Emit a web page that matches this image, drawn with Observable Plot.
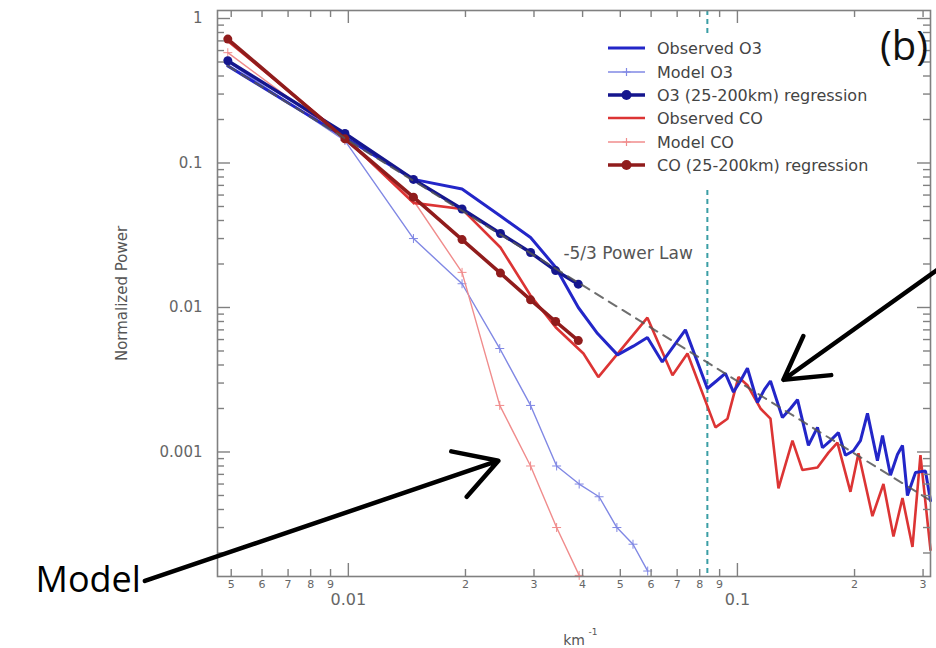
<!DOCTYPE html>
<html><head><meta charset="utf-8">
<script src="https://cdn.jsdelivr.net/npm/d3@7"></script>
<script src="https://cdn.jsdelivr.net/npm/@observablehq/plot@0.6"></script>
<style>body{margin:0;background:#fff;}</style>
</head><body><div id="chart"></div>
<script>
// ---- data (wavenumber km^-1, normalized power) ----
const kObsO3 = [0.0049, 0.0098, 0.0147, 0.0196, 0.0246, 0.0294, 0.0341, 0.039, 0.0437, 0.0492, 0.054, 0.0587, 0.0641, 0.0735, 0.0837, 0.0883, 0.0931, 0.0977, 0.1018, 0.1061, 0.1126, 0.1173, 0.1216, 0.1305, 0.1369, 0.1427, 0.1522, 0.1606, 0.1654, 0.1734, 0.1818, 0.1895, 0.1987, 0.2071, 0.2159, 0.229, 0.236, 0.2474, 0.2578, 0.2656, 0.2735, 0.2869, 0.3043, 0.3135];
const pObsO3 = [0.47, 0.15, 0.077, 0.066, 0.043, 0.0305, 0.019, 0.010, 0.0066, 0.0047, 0.0054, 0.0062, 0.0042, 0.0070, 0.00275, 0.0031, 0.0035, 0.0026, 0.0031, 0.0038, 0.0022, 0.0027, 0.0031, 0.00173, 0.0020, 0.0023, 0.00111, 0.00148, 0.00107, 0.0012, 0.00136, 0.00095, 0.00102, 0.0012, 0.00185, 0.00087, 0.0013, 0.00069, 0.00096, 0.00111, 0.0005, 0.00072, 0.00074, 0.00046];

const kObsCO = [0.0049, 0.0098, 0.0147, 0.0196, 0.0246, 0.0294, 0.0341, 0.0402, 0.0439, 0.0587, 0.0681, 0.0744, 0.0878, 0.0943, 0.1006, 0.1061, 0.1146, 0.1216, 0.1275, 0.1385, 0.1469, 0.1606, 0.1714, 0.1807, 0.1952, 0.2047, 0.2223, 0.2373, 0.2518, 0.2656, 0.2818, 0.2954, 0.3135];
const pObsCO = [0.70, 0.15, 0.053, 0.048, 0.026, 0.0121, 0.0073, 0.0048, 0.0033, 0.0085, 0.0034, 0.0048, 0.00148, 0.0017, 0.0033, 0.0029, 0.0020, 0.0017, 0.00056, 0.0012, 0.00075, 0.00078, 0.00099, 0.00116, 0.00053, 0.00098, 0.00036, 0.0006, 0.00026, 0.00048, 0.00022, 0.00095, 0.00021];

const kModelO3 = [0.0049, 0.0098, 0.0147, 0.0196, 0.0245, 0.0294, 0.0343, 0.0392, 0.0441, 0.049, 0.0539, 0.0588];
const pModelO3 = [0.50, 0.143, 0.030, 0.0146, 0.0052, 0.0021, 0.00080, 0.00060, 0.00049, 0.00030, 0.00023, 0.00015];

const kModelCO = [0.0049, 0.0098, 0.0147, 0.0196, 0.0245, 0.0294, 0.0343, 0.0392];
const pModelCO = [0.58, 0.145, 0.055, 0.0175, 0.0021, 0.0008, 0.0003, 0.00014];

const kReg = [0.0049, 0.0098, 0.0147, 0.0196, 0.0246, 0.0294, 0.0341, 0.039];
const pRegO3 = [0.51, 0.16, 0.077, 0.048, 0.0325, 0.024, 0.018, 0.0145];
const pRegCO = [0.72, 0.147, 0.058, 0.0295, 0.0173, 0.0113, 0.0080, 0.0059];

const kPowerLaw = [0.0049, 0.31];
const pPowerLaw = [0.47, 0.00047];

const kCutoff = [0.0837];

// ---- ticks ----
const xMinorTicks = [0.005, 0.006, 0.007, 0.008, 0.009, 0.02, 0.03, 0.04, 0.05, 0.06, 0.07, 0.08, 0.09, 0.2, 0.3];
const xMinorLabels = ["5", "6", "7", "8", "9", "2", "3", "4", "5", "6", "7", "8", "9", "2", "3"];
const xMajorTicks = [0.01, 0.1];
const xMajorLabels = ["0.01", "0.1"];
const yMajorTicks = [0.001, 0.01, 0.1, 1];
const yMajorLabels = ["0.001", "0.01", "0.1", "1"];
const yMinorTicks = [0.0002,0.0003,0.0004,0.0005,0.0006,0.0007,0.0008,0.0009,
  0.002,0.003,0.004,0.005,0.006,0.007,0.008,0.009,
  0.02,0.03,0.04,0.05,0.06,0.07,0.08,0.09,
  0.2,0.3,0.4,0.5,0.6,0.7,0.8,0.9];

// ---- annotations ----
const arrows = [
  {x1: 0.0030, y1: 0.000128, x2: 0.0243, y2: 0.00087},
  {x1: 0.345, y1: 0.0203, x2: 0.1313, y2: 0.00316}
];
const powerLawLabel = [{x: 0.0357, y: 0.0237, text: "-5/3 Power Law"}];

const legendItems = [
  {label: "Observed O3", color: "#2326c8", width: 3, marker: null},
  {label: "Model O3", color: "#8088e4", width: 1.4, marker: "plus"},
  {label: "O3 (25-200km) regression", color: "#15168e", width: 3.5, marker: "dot"},
  {label: "Observed CO", color: "#dc3434", width: 2.6, marker: null},
  {label: "Model CO", color: "#f08c8c", width: 1.4, marker: "plus"},
  {label: "CO (25-200km) regression", color: "#901c1c", width: 3.5, marker: "dot"}
];

const tab = (k, p) => k.map((x, i) => ({x, y: p[i]}));
const obsO3 = tab(kObsO3, pObsO3), obsCO = tab(kObsCO, pObsCO);
const modO3 = tab(kModelO3, pModelO3), modCO = tab(kModelCO, pModelCO);
const regO3 = tab(kReg, pRegO3), regCO = tab(kReg, pRegCO);
const powerLaw = tab(kPowerLaw, pPowerLaw);

const W = 936, H = 648, mL = 217, mR = 6, mT = 10, mB = 72;
const plotH = H - mT - mB, plotW = W - mL - mR;
const axisColor = "#808080", labelColor = "#666";

const plot = Plot.plot({
  width: W, height: H,
  marginLeft: mL, marginRight: mR, marginTop: mT, marginBottom: mB,
  x: {type: "log", domain: [0.00461, 0.3135], axis: null},
  y: {type: "log", domain: [1.375e-4, 1.136], axis: null},
  style: {fontFamily: "DejaVu Sans", background: "#fff", overflow: "visible"},
  marks: [
    // cutoff line
    Plot.ruleX(kCutoff, {x: d => d, stroke: "#3a9ea5", strokeWidth: 2, strokeDasharray: "5,4"}),
    // model lines
    Plot.line(modO3, {x: "x", y: "y", stroke: "#8088e4", strokeWidth: 1.4}),
    Plot.dot(modO3, {x: "x", y: "y", symbol: "plus", r: 3, stroke: "#8088e4", strokeWidth: 1}),
    Plot.line(modCO, {x: "x", y: "y", stroke: "#f08c8c", strokeWidth: 1.4}),
    Plot.dot(modCO, {x: "x", y: "y", symbol: "plus", r: 3, stroke: "#f08c8c", strokeWidth: 1}),
    // observed
    Plot.line(obsCO, {x: "x", y: "y", stroke: "#dc3434", strokeWidth: 2.6, strokeLinejoin: "miter"}),
    Plot.line(obsO3, {x: "x", y: "y", stroke: "#2326c8", strokeWidth: 3, strokeLinejoin: "miter"}),
    // regressions
    Plot.line(regO3, {x: "x", y: "y", stroke: "#15168e", strokeWidth: 3.5}),
    Plot.dot(regO3, {x: "x", y: "y", r: 4.5, fill: "#15168e"}),
    Plot.line(regCO, {x: "x", y: "y", stroke: "#901c1c", strokeWidth: 3.5}),
    Plot.dot(regCO, {x: "x", y: "y", r: 4.5, fill: "#901c1c"}),
    // -5/3 power law
    Plot.line(powerLaw, {x: "x", y: "y", stroke: "#555", strokeWidth: 2, strokeDasharray: "9,7", strokeOpacity: 0.85}),
    Plot.text(powerLawLabel, {x: "x", y: "y", text: "text", textAnchor: "start", fontSize: 17, fill: "#555"}),
    // frame
    Plot.frame({stroke: axisColor, strokeWidth: 1.6}),
    // ticks: bottom / top
    Plot.ruleX(xMinorTicks, {x: d => d, insetTop: plotH - 7, stroke: axisColor, strokeWidth: 1.4}),
    Plot.ruleX(xMinorTicks, {x: d => d, insetBottom: plotH - 7, stroke: axisColor, strokeWidth: 1.4}),
    Plot.ruleX(xMajorTicks, {x: d => d, insetTop: plotH - 13, stroke: axisColor, strokeWidth: 1.4}),
    Plot.ruleX(xMajorTicks, {x: d => d, insetBottom: plotH - 13, stroke: axisColor, strokeWidth: 1.4}),
    // ticks: left / right
    Plot.ruleY(yMinorTicks, {y: d => d, insetRight: plotW - 7, stroke: axisColor, strokeWidth: 1.4}),
    Plot.ruleY(yMinorTicks, {y: d => d, insetLeft: plotW - 7, stroke: axisColor, strokeWidth: 1.4}),
    Plot.ruleY(yMajorTicks, {y: d => d, insetRight: plotW - 13, stroke: axisColor, strokeWidth: 1.4}),
    Plot.ruleY(yMajorTicks, {y: d => d, insetLeft: plotW - 13, stroke: axisColor, strokeWidth: 1.4}),
    // tick labels
    Plot.text(xMinorTicks, {x: d => d, text: (d, i) => xMinorLabels[i], frameAnchor: "bottom", dy: 11, fontSize: 11, fill: labelColor}),
    Plot.text(xMajorTicks, {x: d => d, text: (d, i) => xMajorLabels[i], frameAnchor: "bottom", dy: 28, fontSize: 16, fill: labelColor}),
    Plot.text(yMajorTicks, {y: d => d, text: (d, i) => yMajorLabels[i], frameAnchor: "left", dx: -15, textAnchor: "end", fontSize: 15, fill: labelColor}),
    // axis titles
    Plot.text(["Normalized Power"], {text: d => d, frameAnchor: "left", dx: -95, textAnchor: "middle", rotate: -90, fontSize: 15, fill: "#555"}),
    Plot.text(["km"], {text: d => d, frameAnchor: "bottom", dx: 0, dy: 68, lineAnchor: "bottom", fontSize: 14, fill: "#555"}),
    Plot.text(["-1"], {text: d => d, frameAnchor: "bottom", dx: 19, dy: 58, lineAnchor: "bottom", fontSize: 9, fill: "#555"}),
    // annotation text
    Plot.text(["Model"], {text: d => d, frameAnchor: "bottom-left", dx: -182, dy: 15, textAnchor: "start", lineAnchor: "bottom", fontSize: 36, fontFamily: "Open Sans", fill: "#000"}),
    // arrows
    Plot.arrow(arrows, {x1: "x1", y1: "y1", x2: "x2", y2: "y2", stroke: "#000", strokeWidth: 4.5, headLength: 16, headAngle: 60})
  ]
});

// in-plot legend
const svg = d3.select(plot);
const lg = svg.append("g").attr("font-family", "DejaVu Sans").attr("text-anchor", "start");
lg.append("rect").attr("x", 596).attr("y", 37).attr("width", 280).attr("height", 152).attr("fill", "#fff");
const rowY = [48, 72, 95, 118, 142, 165];
legendItems.forEach((d, i) => {
  const y = rowY[i];
  lg.append("line").attr("x1", 608).attr("x2", 645).attr("y1", y).attr("y2", y)
    .attr("stroke", d.color).attr("stroke-width", d.width);
  if (d.marker === "dot") lg.append("circle").attr("cx", 626.5).attr("cy", y).attr("r", 5).attr("fill", d.color);
  if (d.marker === "plus") lg.append("path").attr("d", `M622.5,${y}H630.5M626.5,${y - 4}V${y + 4}`).attr("stroke", d.color).attr("stroke-width", 1.2);
  lg.append("text").attr("x", 657).attr("y", y).attr("dy", "0.35em").attr("font-size", 16).attr("fill", "#444").text(d.label);
});
// panel label on top of everything
svg.append("text").attr("x", 928).attr("y", 60).attr("text-anchor", "end")
  .attr("font-family", "Open Sans").attr("font-size", 40).attr("fill", "#111").text("(b)");

document.getElementById("chart").appendChild(plot);
</script>
</body></html>
